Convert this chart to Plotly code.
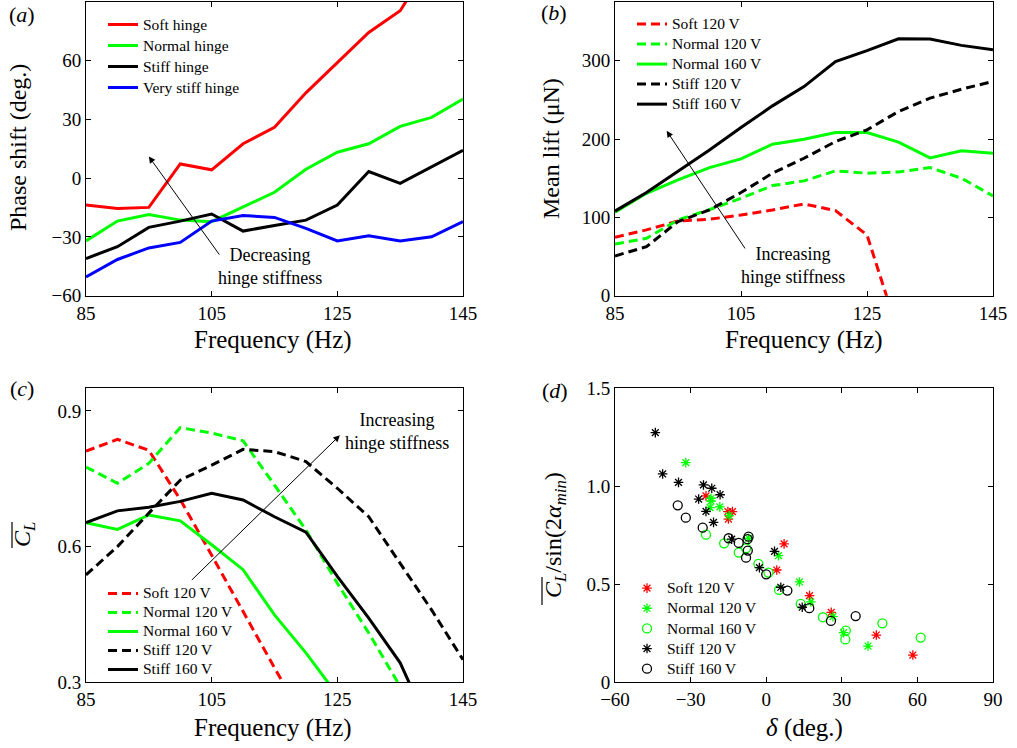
import plotly.graph_objects as go

FONT = "Liberation Serif"
RED, GREEN, BLACK, BLUE = "#ff0000", "#00ff00", "#000000", "#0000ff"

# ---------------- data ----------------
freq = [85, 90, 95, 100, 105, 110, 115, 120, 125, 130, 135, 140, 145]

# (a) phase shift (deg.)
phase_soft = [-13.7, -15.5, -14.9, 7.3, 4.3, 17.6, 26.0, 43.6, 59.0, 74.4, 85.5, 111.0]
phase_normal = [-32.0, -21.9, -18.5, -21.4, -22.2, -14.9, -7.2, 4.6, 13.3, 17.6, 26.5, 31.1, 40.5]
phase_stiff = [-41.0, -35.0, -25.1, -21.9, -18.3, -27.0, -24.1, -21.4, -13.7, 3.4, -2.6, 6.0, 14.2]
phase_vstiff = [-50.4, -41.5, -35.6, -32.8, -21.9, -19.1, -20.0, -25.6, -32.0, -29.4, -32.0, -29.9, -22.2]

# (b) mean lift (uN)
lift_soft120 = [74.6, 84.0, 95.4, 97.6, 103.0, 109.5, 117.2, 108.6, 77.5, -48.0]
lift_normal120 = [66.0, 73.3, 96.7, 110.0, 124.4, 140.6, 146.6, 159.4, 156.4, 158.0, 163.6, 150.0, 127.4]
lift_normal160 = [106.5, 130.8, 147.8, 163.6, 174.7, 193.4, 199.8, 208.4, 208.4, 196.0, 176.0, 185.0, 182.0]
lift_stiff120 = [50.7, 62.6, 94.6, 109.5, 131.7, 156.4, 175.5, 196.8, 211.8, 235.2, 252.2, 263.7, 273.5]
lift_stiff160 = [108.0, 131.7, 159.0, 186.0, 214.7, 242.4, 267.0, 299.0, 313.0, 328.0, 327.6, 319.6, 314.0]

# (c) mean lift coefficient
cl_soft120 = [0.811, 0.837, 0.813, 0.704, 0.581, 0.456, 0.332, 0.21]
cl_normal120 = [0.776, 0.740, 0.784, 0.863, 0.851, 0.834, 0.736, 0.637, 0.519, 0.409, 0.291]
cl_normal160 = [0.653, 0.638, 0.670, 0.657, 0.604, 0.549, 0.449, 0.365, 0.272]
cl_stiff120 = [0.5375, 0.600, 0.674, 0.747, 0.780, 0.815, 0.810, 0.788, 0.729, 0.666, 0.563, 0.460, 0.350]
cl_stiff160 = [0.653, 0.679, 0.687, 0.700, 0.718, 0.703, 0.666, 0.632, 0.534, 0.442, 0.343, 0.19]

# (d) normalised lift coefficient vs delta
d_soft120_x = [-23.9, -15.2, -13.4, -15.0, 7.1, 4.2, 17.2, 25.8, 43.7, 58.2]
d_soft120_y = [0.951, 0.871, 0.871, 0.833, 0.706, 0.573, 0.442, 0.357, 0.241, 0.139]
d_normal120_x = [-31.9, -21.9, -21.9, -22.3, -18.4, -14.7, -7.0, 4.9, 13.2, 17.7, 26.5, 30.7, 40.4]
d_normal120_y = [1.121, 0.939, 0.925, 0.891, 0.895, 0.850, 0.735, 0.646, 0.512, 0.410, 0.335, 0.253, 0.185]
d_normal160_x = [-23.9, -16.7, -10.9, -8.0, -3.1, 0.9, 5.1, 13.7, 22.5, 31.6, 31.4, 46.1, 61.3]
d_normal160_y = [0.753, 0.709, 0.662, 0.684, 0.604, 0.560, 0.471, 0.400, 0.332, 0.264, 0.219, 0.301, 0.228]
d_stiff120_x = [-44.0, -41.1, -34.8, -24.9, -21.6, -18.3, -26.8, -23.9, -20.9, -13.7, 3.3, -2.7, 5.8, 14.3]
d_stiff120_y = [1.274, 1.063, 1.020, 1.007, 0.990, 0.957, 0.935, 0.872, 0.816, 0.730, 0.668, 0.585, 0.485, 0.383]
d_stiff160_x = [-35.1, -31.9, -25.2, -14.9, -10.9, -7.0, -7.4, -7.3, -8.0, 0.0, 8.4, 17.1, 25.7, 35.5]
d_stiff160_y = [0.903, 0.840, 0.789, 0.735, 0.711, 0.743, 0.730, 0.672, 0.636, 0.551, 0.468, 0.378, 0.313, 0.338]

freq_ticks = [85, 105, 125, 145]

# ---------------- figure ----------------
W, H = 1017, 748
fig = go.Figure()

def lname(s):
    return '<span style="font-size:15.5px">' + s + "</span>"

def line(x, y, name, color, dash, xa, ya, legend):
    fig.add_trace(go.Scatter(x=x[:len(y)], y=y, name=lname(name), mode="lines",
                             line=dict(color=color, width=3, dash=dash),
                             xaxis=xa, yaxis=ya, legend=legend))

DASH = "9px,5px"
# (a)
line(freq, phase_soft, "Soft hinge", RED, "solid", "x", "y", "legend")
line(freq, phase_normal, "Normal hinge", GREEN, "solid", "x", "y", "legend")
line(freq, phase_stiff, "Stiff hinge", BLACK, "solid", "x", "y", "legend")
line(freq, phase_vstiff, "Very stiff hinge", BLUE, "solid", "x", "y", "legend")
# (b)
line(freq, lift_soft120, "Soft 120 V", RED, DASH, "x2", "y2", "legend2")
line(freq, lift_normal120, "Normal 120 V", GREEN, DASH, "x2", "y2", "legend2")
line(freq, lift_normal160, "Normal 160 V", GREEN, "solid", "x2", "y2", "legend2")
line(freq, lift_stiff120, "Stiff 120 V", BLACK, DASH, "x2", "y2", "legend2")
line(freq, lift_stiff160, "Stiff 160 V", BLACK, "solid", "x2", "y2", "legend2")
# (c)
line(freq, cl_soft120, "Soft 120 V", RED, DASH, "x3", "y3", "legend3")
line(freq, cl_normal120, "Normal 120 V", GREEN, DASH, "x3", "y3", "legend3")
line(freq, cl_normal160, "Normal 160 V", GREEN, "solid", "x3", "y3", "legend3")
line(freq, cl_stiff120, "Stiff 120 V", BLACK, DASH, "x3", "y3", "legend3")
line(freq, cl_stiff160, "Stiff 160 V", BLACK, "solid", "x3", "y3", "legend3")

# (d)
def pts(x, y, name, color, symbol, size):
    fig.add_trace(go.Scatter(x=x, y=y, name=lname(name), mode="markers",
                             marker=dict(symbol=symbol, size=size, color=color,
                                         line=dict(color=color, width=1.3)),
                             xaxis="x4", yaxis="y4", legend="legend4"))

pts(d_soft120_x, d_soft120_y, "Soft 120 V", RED, "asterisk-open", 8)
pts(d_normal120_x, d_normal120_y, "Normal 120 V", GREEN, "asterisk-open", 8)
pts(d_normal160_x, d_normal160_y, "Normal 160 V", GREEN, "circle-open", 9)
pts(d_stiff120_x, d_stiff120_y, "Stiff 120 V", BLACK, "asterisk-open", 8)
pts(d_stiff160_x, d_stiff160_y, "Stiff 160 V", BLACK, "circle-open", 9)

LEFT = [86 / W, 463 / W]
RIGHT = [615 / W, 993 / W]
TOP = [1 - 295.7 / H, 1 - 2 / H]
BOT = [1 - 682.3 / H, 1 - 388.3 / H]

tickfont = dict(family=FONT, size=19, color="black")

def ax(domain, rng, tickvals, ticktext=None, anchor=None):
    d = dict(domain=domain, range=rng, tickvals=tickvals, showgrid=False, zeroline=False,
             showline=True, linecolor="black", linewidth=1, mirror="ticks",
             ticks="inside", ticklen=5, tickwidth=1, tickcolor="black",
             tickfont=tickfont, anchor=anchor, automargin=False)
    if ticktext is not None:
        d["ticktext"] = ticktext
    return d

fig.update_layout(
    template="none",
    xaxis=ax(LEFT, [85, 145], freq_ticks, anchor="y"),
    yaxis=ax(TOP, [-60, 90], [-60, -30, 0, 30, 60], anchor="x"),
    xaxis2=ax(RIGHT, [85, 145], freq_ticks, anchor="y2"),
    yaxis2=ax(TOP, [0, 375], [0, 100, 200, 300], anchor="x2"),
    xaxis3=ax(LEFT, [85, 145], freq_ticks, anchor="y3"),
    yaxis3=ax(BOT, [0.3, 0.95], [0.3, 0.6, 0.9], ["0.3", "0.6", "0.9"], anchor="x3"),
    xaxis4=ax(RIGHT, [-60, 90], [-60, -30, 0, 30, 60, 90], anchor="y4"),
    yaxis4=ax(BOT, [0, 1.5], [0, 0.5, 1.0, 1.5], ["0", "0.5", "1.0", "1.5"], anchor="x4"),
)

def leg(x, y, fs):
    return dict(x=x, y=y, xanchor="left", yanchor="top", xref="paper", yref="paper",
                bgcolor="rgba(0,0,0,0)", borderwidth=0,
                font=dict(family=FONT, size=fs, color="black"),
                tracegroupgap=0, itemwidth=30)

fig.update_layout(
    width=W, height=H, margin=dict(l=0, r=0, t=0, b=0, autoexpand=False),
    paper_bgcolor="white", plot_bgcolor="white",
    showlegend=True,
    legend=leg(103 / W, 1 - 9 / H, 13.85),
    legend2=leg(632 / W, 1 - 9 / H, 13.1),
    legend3=leg(103 / W, 1 - 579 / H, 11.9),
    legend4=leg(627 / W, 1 - 573 / H, 13.2),
)

annots = []
def ptext(text, x, y, size=24, angle=0):
    annots.append(dict(text=text, x=x / W, y=1 - y / H, xref="paper", yref="paper",
                       showarrow=False, textangle=angle, xanchor="center", yanchor="middle",
                       font=dict(family=FONT, size=size, color="black")))

# panel labels
ptext("(<i>a</i>)", 22, 15, 22)
ptext("(<i>b</i>)", 554, 13, 22)
ptext("(<i>c</i>)", 22, 388, 22)
ptext("(<i>d</i>)", 555, 390, 22)
# axis titles
ptext("Frequency (Hz)", 273, 340, 25)
ptext("Frequency (Hz)", 804, 340, 25)
ptext("Frequency (Hz)", 273, 728, 25)
ptext("<i>δ</i> (deg.)", 804, 728, 25)
ptext("Phase shift (deg.)", 18, 148, 24, -90)
ptext("Mean lift (μN)", 551, 149, 24, -90)
ptext("<i>C<sub>L</sub></i>", 24, 535, 24, -90)
ptext("<i>C<sub>L</sub></i>/sin(2<i>α<sub>min</sub></i>)", 555, 535, 24, -90)

# in-plot notes with arrows
def note(text, x, y, xr, yr):
    annots.append(dict(text=text, x=x, y=y, xref=xr, yref=yr, showarrow=False,
                       xanchor="center", yanchor="middle", align="center",
                       font=dict(family=FONT, size=18, color="black")))

def arrow(x, y, ax_, ay_, xr, yr):
    annots.append(dict(text="", x=x, y=y, ax=ax_, ay=ay_, xref=xr, yref=yr,
                       axref=xr, ayref=yr, showarrow=True, arrowhead=2, arrowsize=1.3,
                       arrowwidth=1, arrowcolor="black"))

note("Decreasing<br>hinge stiffness", 114.3, -45, "x", "y")
arrow(95, 11.1, 106.4, -39.8, "x", "y")
note("Increasing<br>hinge stiffness", 113.3, 39, "x2", "y2")
arrow(93.2, 210.5, 105.8, 58.4, "x2", "y2")
note("Increasing<br>hinge stiffness", 134.5, 0.855, "x3", "y3")
arrow(125.4, 0.846, 101.6, 0.523, "x3", "y3")

fig.update_layout(annotations=annots)

# overlines for the C_L titles
for (xo, y0, y1) in [(12, 522, 548), (542, 577, 605)]:
    fig.add_shape(type="line", xref="paper", yref="paper",
                  x0=xo / W, x1=xo / W, y0=1 - y1 / H, y1=1 - y0 / H,
                  line=dict(color="black", width=1.2))

fig.write_html("out.html")
